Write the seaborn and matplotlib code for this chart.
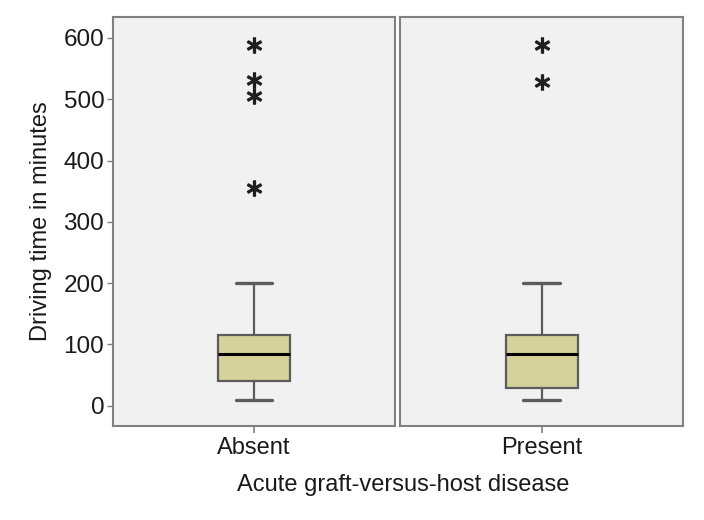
import matplotlib
matplotlib.use("Agg")
import matplotlib.pyplot as plt
import pandas as pd
import seaborn as sns

# Box summary values (minutes)
groups = ["Absent", "Present"]
whisker_low = [10, 10]
q1 = [40, 29]
medians = [84, 84]
q3 = [115, 115]
whisker_high = [200, 200]
outliers = [[356, 505, 532, 589], [528, 589]]

y_ticks = [0, 100, 200, 300, 400, 500, 600]

summary = pd.DataFrame({
    "group": groups,
    "whislo": whisker_low,
    "q1": q1,
    "med": medians,
    "q3": q3,
    "whishi": whisker_high,
    "fliers": outliers,
})

sns.set_theme(style="white")
plt.rcParams["font.family"] = ["Liberation Sans", "DejaVu Sans"]
plt.rcParams["text.color"] = "#1a1a1a"
plt.rcParams["xtick.color"] = "#1a1a1a"
plt.rcParams["ytick.color"] = "#1a1a1a"
plt.rcParams["axes.labelcolor"] = "#1a1a1a"

BOX_FILL = "#d5d19b"
EDGE = "#5c5c5c"
PANEL_BG = "#f1f1f1"
FRAME = "#808080"


def draw_box(data, **kws):
    ax = plt.gca()
    row = data.iloc[0]
    stats = {
        "whislo": row["whislo"],
        "q1": row["q1"],
        "med": row["med"],
        "q3": row["q3"],
        "whishi": row["whishi"],
        "fliers": row["fliers"],
    }
    ax.bxp(
        [stats],
        positions=[0],
        widths=0.255,
        patch_artist=True,
        showfliers=True,
        boxprops=dict(facecolor=BOX_FILL, edgecolor=EDGE, linewidth=1.6),
        medianprops=dict(color="black", linewidth=2.2),
        whiskerprops=dict(color=EDGE, linewidth=1.6),
        capprops=dict(color=EDGE, linewidth=2.4),
        capwidths=0.13,
        flierprops=dict(marker=r"$\ast$", markersize=11, markeredgewidth=0.9,
                        markeredgecolor="#1e1e1e", markerfacecolor="#1e1e1e"),
    )
    ax.set_xlim(-0.5, 0.5)
    ax.set_xticks([0])
    ax.set_xticklabels([row["group"]])


g = sns.FacetGrid(summary, col="group", despine=False, sharey=True,
                  sharex=False, height=5.2, aspect=0.68)
g.map_dataframe(draw_box)
g.set_titles("")

for ax in g.axes.flat:
    ax.set_facecolor(PANEL_BG)
    ax.set_ylim(-33, 634)
    ax.set_xlabel("")
    for spine in ax.spines.values():
        spine.set_color(FRAME)
        spine.set_linewidth(1.5)
    ax.tick_params(axis="x", bottom=True, length=5, width=1.2, color=FRAME,
                   labelsize=17, pad=3)

left_ax = g.axes.flat[0]
left_ax.set_yticks(y_ticks)
left_ax.tick_params(axis="y", left=True, length=4, width=1.0, color=FRAME,
                    labelsize=17.5, pad=2)
left_ax.set_ylabel("Driving time in minutes", fontsize=17, labelpad=8)
g.axes.flat[1].tick_params(axis="y", left=False, labelleft=False)
g.axes.flat[1].set_ylabel("")

fig = g.figure
fig.set_size_inches(7.04, 5.2)
fig.subplots_adjust(left=0.16, right=0.97, bottom=0.181, top=0.967, wspace=0.018)
fig.text(0.573, 0.067, "Acute graft-versus-host disease", ha="center",
         va="center", fontsize=17)

fig.savefig("out.png", dpi=100)
